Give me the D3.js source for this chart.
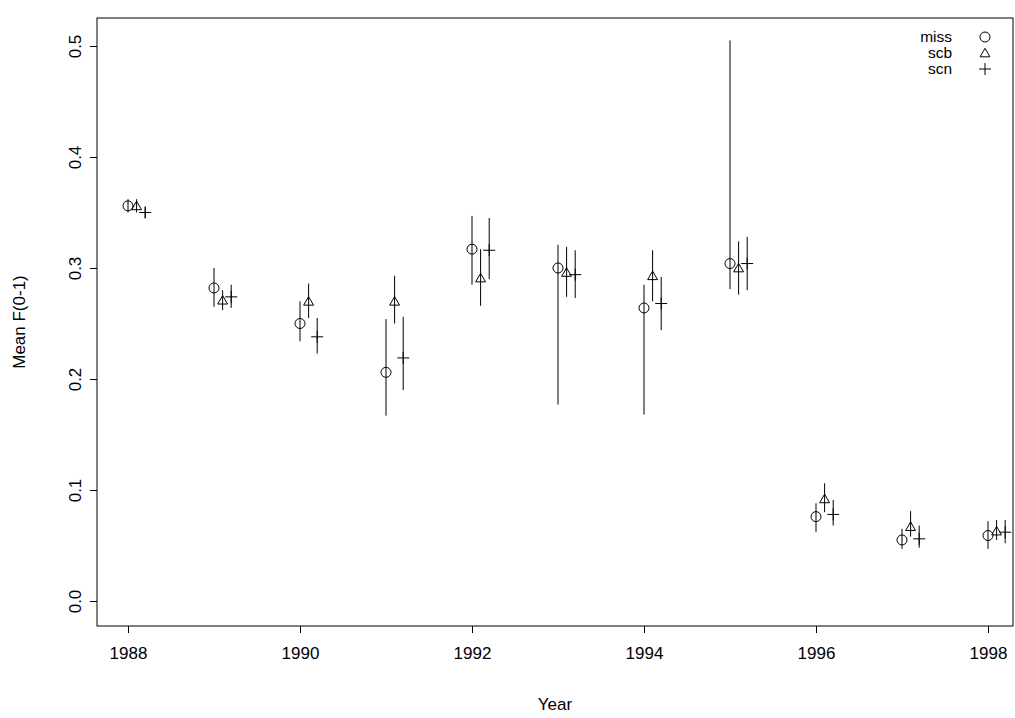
<!DOCTYPE html>
<html><head><meta charset="utf-8">
<script src="https://cdn.jsdelivr.net/npm/d3@7"></script>
<style>body{margin:0;background:#fff}text{font-family:"Liberation Sans",Arial,sans-serif}</style>
</head><body><svg id="c" width="1015" height="718"></svg>
<script>
var years = [1988,1989,1990,1991,1992,1993,1994,1995,1996,1997,1998];
var series = ["miss","scb","scn"];
var offsets = [0, 0.1, 0.2];
var missMean = [0.356,0.282,0.250,0.206,0.317,0.300,0.264,0.304,0.076,0.055,0.059];
var missLo   = [0.350,0.265,0.234,0.167,0.285,0.177,0.168,0.281,0.062,0.047,0.047];
var missHi   = [0.362,0.300,0.270,0.254,0.347,0.321,0.285,0.505,0.088,0.065,0.072];
var scbMean  = [0.356,0.271,0.270,0.270,0.291,0.296,0.293,0.300,0.092,0.067,0.063];
var scbLo    = [0.350,0.262,0.255,0.250,0.266,0.274,0.270,0.276,0.080,0.058,0.055];
var scbHi    = [0.362,0.280,0.286,0.293,0.317,0.319,0.316,0.324,0.106,0.081,0.073];
var scnMean  = [0.350,0.274,0.238,0.219,0.316,0.294,0.268,0.304,0.078,0.056,0.062];
var scnLo    = [0.345,0.264,0.223,0.190,0.290,0.273,0.244,0.280,0.068,0.048,0.052];
var scnHi    = [0.355,0.285,0.255,0.256,0.345,0.316,0.292,0.328,0.091,0.068,0.073];
var means=[missMean,scbMean,scnMean], los=[missLo,scbLo,scnLo], his=[missHi,scbHi,scnHi];

var svg = d3.select("#c");
var x = d3.scaleLinear().domain([1988,1998]).range([128,988]);
var y = d3.scaleLinear().domain([0,0.5]).range([601,46]);
var L=97,R=1013,T=18,B=626;
svg.append("rect").attr("x",L).attr("y",T).attr("width",R-L).attr("height",B-T)
  .attr("fill","none").attr("stroke","#000");

var xa = svg.append("g").attr("transform","translate(0,"+B+")")
  .call(d3.axisBottom(x).tickValues(d3.range(1988,1999,2)).tickFormat(d3.format("d")).tickSizeOuter(0).tickSize(7).tickPadding(14));
var ya = svg.append("g").attr("transform","translate("+L+",0)")
  .call(d3.axisLeft(y).tickValues(d3.range(0,0.51,0.1)).tickFormat(d3.format(".1f")).tickSizeOuter(0).tickSize(7));
[xa,ya].forEach(function(a){a.select(".domain").remove();a.selectAll("text").attr("font-size",17).attr("fill","#000");});
ya.selectAll(".tick text").attr("text-anchor","middle").attr("x",0).attr("dy",0)
  .attr("transform","translate(-16,0) rotate(-90)");

svg.append("text").attr("x",(L+R)/2).attr("y",710).attr("text-anchor","middle").attr("font-size",17).text("Year");
svg.append("text").attr("transform","translate(25,"+((T+B)/2)+") rotate(-90)").attr("text-anchor","middle").attr("font-size",17).text("Mean F(0-1)");

function sym(g,k,cx,cy){
  if(k===0) g.append("circle").attr("cx",cx).attr("cy",cy).attr("r",5).attr("fill","none").attr("stroke","#000");
  else if(k===1) g.append("path").attr("d",d3.symbol(d3.symbolTriangle,42)()).attr("transform","translate("+cx+","+(cy+1)+")").attr("fill","none").attr("stroke","#000");
  else g.append("path").attr("d","M"+(cx-6)+","+cy+"H"+(cx+6)+"M"+cx+","+(cy-6)+"V"+(cy+6)).attr("stroke","#000");
}
var g = svg.append("g");
series.forEach(function(s,k){
  years.forEach(function(yr,i){
    var cx=x(yr+offsets[k]);
    g.append("line").attr("x1",cx).attr("x2",cx).attr("y1",y(los[k][i])).attr("y2",y(his[k][i])).attr("stroke","#000");
    sym(g,k,cx,y(means[k][i]));
  });
  var ly=37+k*16;
  svg.append("text").attr("x",952).attr("y",ly+5).attr("text-anchor","end").attr("font-size",15.5).text(s);
  sym(svg,k,985,ly);
});
</script></body></html>
